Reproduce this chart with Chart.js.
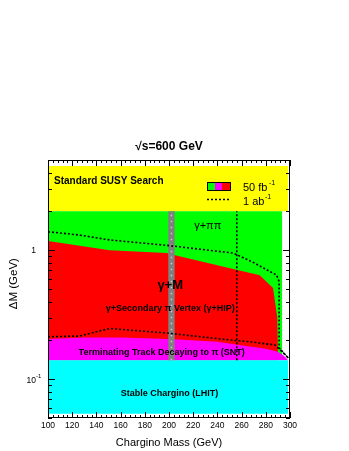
<!DOCTYPE html>
<html>
<head>
    <title>sqrt(s)=600 GeV chargino reach</title>
    <script src="https://cdn.jsdelivr.net/npm/chart.js"></script>
    <style>
        body {
            margin: 0;
            background: #fff;
            font-family: "Liberation Sans", Arial, sans-serif;
        }
        .chart-container {
            width: 349px;
            height: 451px;
            position: relative;
        }
    </style>
</head>
<body>
    <div class="chart-container">
        <canvas id="myChart"></canvas>
    </div>

    <script>
        // axis ticks
        const massTicks = [100, 120, 140, 160, 180, 200, 220, 240, 260, 280, 300];
        const dmMajorTicks = [0.1, 1];

        // region boundaries (mass in GeV, delta M in GeV)
        const susyMass = [100, 298.5];
        const susyRange = [2, 4.5];

        const ppMass = [100, 293.6];
        const ppRange = [0.15, 2];

        const redMass = [100, 151, 198, 205, 275, 286, 289.5, 290];
        const redTop = [1.18, 1.0, 0.95, 0.915, 0.64, 0.51, 0.30, 0.175];

        const sntMass = [100, 130, 160, 200, 240, 265, 280, 290, 295, 298.5];
        const sntTop = [0.205, 0.21, 0.21, 0.205, 0.195, 0.18, 0.172, 0.163, 0.152, 0.14];

        const lhitMass = [100, 298.5];
        const lhitRange = [0.054, 0.14];

        const bandMass = [199.3, 204.8];
        const bandRange = [0.14, 2];

        // 1 ab^-1 contours
        const upperMass = [100, 126, 151, 198, 253, 269, 289, 291, 291, 298.6];
        const upperDM = [1.39, 1.31, 1.2, 1.09, 0.95, 0.81, 0.64, 0.57, 0.175, 0.146];

        const lowerMass = [100, 126, 151, 198, 253, 267, 287.6, 294.5, 298.6];
        const lowerDM = [0.213, 0.216, 0.247, 0.228, 0.2, 0.195, 0.184, 0.16, 0.146];

        const cutMass = [256, 256];
        const cutDM = [0.14, 2];

        const pts = (xs, ys) => xs.map((x, i) => ({ x: x, y: ys[i] }));
        const flat = (xs, y) => xs.map(x => ({ x: x, y: y }));

        const fillSet = (data, bottom, color, order) => ({
            data: data,
            fill: { value: bottom },
            backgroundColor: color,
            borderColor: 'rgba(0,0,0,0)',
            borderWidth: 0,
            pointRadius: 0,
            tension: 0,
            order: order
        });

        const dotSet = (data, order) => ({
            data: data,
            fill: false,
            borderColor: '#000',
            borderWidth: 1.6,
            borderDash: [2, 2],
            pointRadius: 0,
            tension: 0,
            order: order
        });

        const datasets = [
            fillSet(flat(susyMass, susyRange[1]), susyRange[0], '#ffff00', 20),
            fillSet(flat(ppMass, ppRange[1]), ppRange[0], '#00ff00', 19),
            fillSet(pts(redMass, redTop), 0.14, '#ff0000', 18),
            fillSet(pts(sntMass, sntTop), 0.14, '#ff00ff', 17),
            fillSet(flat(lhitMass, lhitRange[1]), lhitRange[0], '#00ffff', 16),
            fillSet(flat(bandMass, bandRange[1]), bandRange[0], '#808080', 15),
            {
                data: pts([202, 202], bandRange),
                fill: false,
                borderColor: '#c8c8c8',
                borderWidth: 1.5,
                borderDash: [1.5, 4.5],
                pointRadius: 0,
                order: 14
            },
            dotSet(pts(upperMass, upperDM), 3),
            dotSet(pts(lowerMass, lowerDM), 2),
            dotSet(pts(cutMass, cutDM), 1)
        ];

        const FONT = '"Liberation Sans", Arial, sans-serif';

        const framePlugin = {
            id: 'frame',
            afterDatasetsDraw(chart) {
                const ctx = chart.ctx;
                const a = chart.chartArea;
                const xs = chart.scales.x;
                const ys = chart.scales.y;
                ctx.save();

                // text annotations
                ctx.fillStyle = '#000';
                ctx.textBaseline = 'middle';
                const label = (text, x, y, font, align) => {
                    ctx.font = font;
                    ctx.textAlign = align || 'center';
                    ctx.fillText(text, xs.getPixelForValue(x), ys.getPixelForValue(y));
                };
                label('Standard SUSY Search', 105, 3.43, 'bold 10px ' + FONT, 'left');
                label('\u03b3+\u03c0\u03c0', 232, 1.53, '11px ' + FONT);
                label('\u03b3+M', 201, 0.535, 'bold 13px ' + FONT);
                label('\u03b3+Secondary \u03c0 Vertex (\u03b3+HIP)', 201, 0.355, 'bold 9px ' + FONT);
                label('Terminating Track Decaying to \u03c0 (SNT)', 194, 0.162, 'bold 9px ' + FONT);
                label('Stable Chargino (LHIT)', 200.4, 0.078, 'bold 9px ' + FONT);

                // legend
                const lx = a.left + 159, ly = a.top + 22;
                ctx.fillStyle = '#00ff00'; ctx.fillRect(lx, ly, 8, 9);
                ctx.fillStyle = '#ff00ff'; ctx.fillRect(lx + 8, ly, 7, 9);
                ctx.fillStyle = '#ff0000'; ctx.fillRect(lx + 15, ly, 9, 9);
                ctx.strokeStyle = '#000'; ctx.lineWidth = 1;
                ctx.strokeRect(lx + 0.5, ly + 0.5, 23, 8);
                ctx.setLineDash([2, 2]); ctx.lineWidth = 1.6;
                ctx.beginPath(); ctx.moveTo(lx, ly + 17.5); ctx.lineTo(lx + 24, ly + 17.5); ctx.stroke();
                ctx.setLineDash([]);
                ctx.fillStyle = '#000';
                ctx.textAlign = 'left';
                ctx.font = '11px ' + FONT;
                ctx.fillText('50 fb', lx + 36, ly + 6);
                ctx.fillText('1 ab', lx + 36, ly + 20);
                ctx.font = '7px ' + FONT;
                ctx.fillText('-1', lx + 62, ly + 1);
                ctx.fillText('-1', lx + 58, ly + 15);

                // frame
                ctx.strokeStyle = '#000';
                ctx.lineWidth = 1;
                ctx.strokeRect(a.left + 0.5, a.top + 0.5, a.right - a.left - 1, a.bottom - a.top - 1);

                // x ticks (inward, bottom and top)
                ctx.beginPath();
                for (let m = 100; m <= 300; m += 4) {
                    const px = Math.round(xs.getPixelForValue(m)) + 0.5;
                    const len = (m % 20 === 0) ? 6 : 3;
                    ctx.moveTo(px, a.bottom); ctx.lineTo(px, a.bottom - len);
                    ctx.moveTo(px, a.top); ctx.lineTo(px, a.top + len);
                }
                // y ticks (inward, left and right)
                for (let d = 0.01; d < 10; d *= 10) {
                    for (let k = 1; k < 10; k++) {
                        const v = d * k;
                        if (v < ys.min || v > ys.max) continue;
                        const py = Math.round(ys.getPixelForValue(v)) + 0.5;
                        const len = (k === 1) ? 7 : 4;
                        ctx.moveTo(a.left, py); ctx.lineTo(a.left + len, py);
                        ctx.moveTo(a.right, py); ctx.lineTo(a.right - len, py);
                    }
                }
                ctx.stroke();

                // tick labels
                ctx.font = '8.5px ' + FONT;
                ctx.textAlign = 'center';
                ctx.textBaseline = 'middle';
                massTicks.forEach(m => {
                    ctx.fillText(String(m), xs.getPixelForValue(m), a.bottom + 8);
                });
                dmMajorTicks.forEach(v => {
                    const py = ys.getPixelForValue(v);
                    ctx.textAlign = 'right';
                    ctx.font = '8.5px ' + FONT;
                    if (v === 1) {
                        ctx.fillText('1', a.left - 12, py);
                    } else {
                        ctx.fillText('10', a.left - 12, py + 1);
                        ctx.font = '6px ' + FONT;
                        ctx.textAlign = 'left';
                        ctx.fillText('-1', a.left - 12, py - 3);
                    }
                });

                // axis titles and header
                ctx.font = '11px ' + FONT;
                ctx.textAlign = 'center';
                ctx.fillText('Chargino Mass (GeV)', (a.left + a.right) / 2, a.bottom + 25);
                ctx.save();
                ctx.translate(14, ys.getPixelForValue(0.55));
                ctx.rotate(-Math.PI / 2);
                ctx.font = '11.5px ' + FONT;
                ctx.fillText('\u0394M (GeV)', 0, 0);
                ctx.restore();
                ctx.font = 'bold 12px ' + FONT;
                ctx.fillText('\u221as=600 GeV', 169, a.top - 13);

                ctx.restore();
            }
        };

        window.addEventListener('load', function() {
            new Chart(document.getElementById('myChart'), {
                type: 'line',
                data: { datasets: datasets },
                options: {
                    responsive: true,
                    maintainAspectRatio: false,
                    animation: false,
                    events: [],
                    layout: {
                        padding: { left: 48, right: 59, top: 160, bottom: 33 }
                    },
                    scales: {
                        x: { type: 'linear', min: 100, max: 300, display: false },
                        y: { type: 'logarithmic', min: 0.05, max: 5, display: false }
                    },
                    plugins: {
                        legend: { display: false },
                        tooltip: { enabled: false }
                    }
                },
                plugins: [framePlugin]
            });
        });
    </script>
</body>
</html>
